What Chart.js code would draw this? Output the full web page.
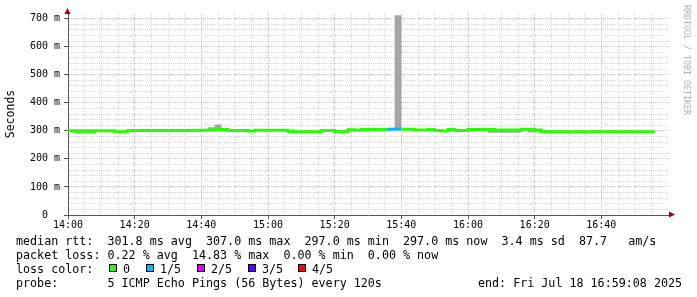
<!DOCTYPE html>
<html>
<head>
<meta charset="utf-8">
<script src="https://cdn.jsdelivr.net/npm/chart.js@4/dist/chart.umd.min.js"></script>
<style>
  body { margin: 0; background: #fff; }
  #wrap { position: relative; width: 697px; height: 297px; overflow: hidden; }
  #c { position: absolute; left: 0; top: 0; }
  .t { position: absolute; font-family: 'DejaVu Sans Mono', monospace; font-size: 11.7px; line-height: 14px; white-space: pre; color: #000; }
  .box { position: absolute; width: 6px; height: 6px; border: 1px solid #000; }
  #brand { position: absolute; left: 682px; top: 5px; font-family: 'DejaVu Sans Mono', monospace; font-size: 8.3px; line-height: 10px; color: #b0b0b0; writing-mode: vertical-rl; white-space: pre; }
</style>
</head>
<body>
<div id="wrap">
  <canvas id="c" width="697" height="297"></canvas>
  <div class="t" style="left:16px; top:234px;">median rtt:  301.8 ms avg  307.0 ms max  297.0 ms min  297.0 ms now  3.4 ms sd  87.7   am/s
packet loss: 0.22 % avg  14.83 % max  0.00 % min  0.00 % now
loss color:
probe:       5 ICMP Echo Pings (56 Bytes) every 120s</div>
  <div class="t" style="left:478px; top:276px;">end: Fri Jul 18 16:59:08 2025</div>
  <div id="legendRow"></div>
  <div id="brand">RRDTOOL / TOBI OETIKER</div>
</div>
<script>
// smokeping median rtt, one value per 120s step starting 14:00 (ms)
const STEP_MIN = 2;
const startHour = 14;

const median = [
  300, 297, 297, 297, 300, 300, 300, 297, 297, 301,
  301, 301, 301, 301, 301, 301, 301, 301, 301, 302,
  302, 303, 305, 305, 301, 301, 301, 299, 302, 302,
  302, 302, 302, 298, 297, 297, 297, 297, 301, 301,
  297, 297, 304, 302, 305, 305, 305, 305, 306, 306,
  306, 306, 303, 303, 305, 301, 299, 305, 301, 301,
  305, 305, 305, 305, 303, 303, 303, 303, 306, 306,
  303, 297, 297, 297, 297, 297, 297, 297, 297, 297,
  297, 297, 297, 297, 297, 297, 297, 297, 297
];

// lost pings (out of 5) per step
const loss = [
  0, 0, 0, 0, 0, 0, 0, 0, 0, 0,
  0, 0, 0, 0, 0, 0, 0, 0, 0, 0,
  0, 0, 0, 0, 0, 0, 0, 0, 0, 0,
  0, 0, 0, 0, 0, 0, 0, 0, 0, 0,
  0, 0, 0, 0, 0, 0, 0, 0, 1, 1,
  0, 0, 0, 0, 0, 0, 0, 0, 0, 0,
  0, 0, 0, 0, 0, 0, 0, 0, 0, 0,
  0, 0, 0, 0, 0, 0, 0, 0, 0, 0,
  0, 0, 0, 0, 0, 0, 0, 0, 0
];

// smoke band (lowest / highest ping) per step
const smokeLo = [
  297, 294, 294, 294, 297, 297, 297, 294, 294, 298,
  298, 298, 298, 298, 298, 298, 298, 298, 298, 299,
  299, 300, 302, 302, 298, 298, 298, 296, 299, 299,
  299, 299, 299, 295, 294, 294, 294, 294, 298, 298,
  294, 294, 301, 299, 302, 302, 302, 302, 303, 303,
  303, 303, 300, 300, 302, 298, 296, 302, 298, 298,
  302, 302, 302, 293, 293, 293, 293, 293, 303, 294,
  294, 294, 294, 294, 294, 294, 294, 294, 294, 294,
  294, 294, 294, 294, 294, 294, 294, 294, 294
];
const smokeHi = [
  303, 306, 306, 306, 303, 303, 303, 300, 300, 304,
  304, 304, 304, 304, 304, 304, 304, 304, 304, 305,
  305, 313, 323, 308, 304, 304, 304, 302, 305, 305,
  305, 305, 305, 305, 300, 300, 300, 300, 304, 304,
  303, 303, 307, 305, 308, 308, 308, 308, 309, 712,
  309, 309, 306, 306, 308, 304, 302, 308, 304, 304,
  305, 305, 305, 308, 306, 306, 306, 306, 309, 309,
  306, 304, 300, 300, 300, 300, 300, 300, 300, 300,
  300, 300, 300, 300, 300, 300, 300, 300, 300
];

const lossColors = ['#26ff00', '#00b8ff', '#dd00ff', '#5e00ff', '#ff0000'];
const lossLabels = ['0', '1/5', '2/5', '3/5', '4/5'];
const yTicks = [0, 100, 200, 300, 400, 500, 600, 700];

const pts = arr => arr.map((v, i) => ({ x: i * STEP_MIN, y: v }));

// legend colour boxes
const boxX = [109, 146, 197, 248, 298];
const row = document.getElementById('legendRow');
lossLabels.forEach((lab, i) => {
  const b = document.createElement('div');
  b.className = 'box';
  b.style.left = boxX[i] + 'px';
  b.style.top = '264px';
  b.style.background = lossColors[i];
  row.appendChild(b);
  const t = document.createElement('div');
  t.className = 't';
  t.style.left = (boxX[i] + 14) + 'px';
  t.style.top = '262px';
  t.textContent = lab;
  row.appendChild(t);
});

const gridMinor = 'rgba(165,165,165,0.45)';
const gridMajor = 'rgba(230,110,110,0.6)';

const arrows = {
  id: 'arrows',
  afterDraw(chart) {
    const { ctx, chartArea: a } = chart;
    ctx.save();
    ctx.fillStyle = '#a00000';
    ctx.beginPath();
    ctx.moveTo(a.right + 7, a.bottom - 0.5);
    ctx.lineTo(a.right + 1, a.bottom - 3.5);
    ctx.lineTo(a.right + 1, a.bottom + 2.5);
    ctx.closePath();
    ctx.fill();
    ctx.beginPath();
    ctx.moveTo(a.left - 0.5, a.top - 5);
    ctx.lineTo(a.left - 3.5, a.top + 1);
    ctx.lineTo(a.left + 2.5, a.top + 1);
    ctx.closePath();
    ctx.fill();
    ctx.restore();
  }
};

Chart.defaults.font.family = "'DejaVu Sans Mono', monospace";
Chart.defaults.color = '#000';

// 'before' = each step keeps its own value until the next sample
new Chart(document.getElementById('c'), {
  type: 'line',
  data: {
    datasets: [
      {
        label: 'smoke lo',
        data: pts(smokeLo),
        stepped: 'before',
        borderWidth: 0,
        pointRadius: 0,
        fill: false,
        order: 2
      },
      {
        label: 'smoke hi',
        data: pts(smokeHi),
        stepped: 'before',
        borderWidth: 0,
        pointRadius: 0,
        backgroundColor: '#a4a4a4',
        fill: '-1',
        order: 1
      },
      {
        label: 'median rtt',
        data: pts(median),
        stepped: 'before',
        borderWidth: 3,
        borderColor: lossColors[0],
        borderCapStyle: 'butt',
        borderJoinStyle: 'miter',
        pointRadius: 0,
        fill: false,
        order: 0,
        segment: {
          borderColor: c => lossColors[loss[c.p0DataIndex]]
        }
      }
    ]
  },
  options: {
    responsive: false,
    animation: false,
    devicePixelRatio: 1,
    layout: { padding: { left: 0, right: 29, top: 13, bottom: 0 } },
    plugins: { legend: { display: false }, tooltip: { enabled: false } },
    scales: {
      x: {
        type: 'linear',
        min: 0,
        max: 180,
        afterFit: s => { s.height = 82; },
        ticks: {
          stepSize: 5,
          autoSkip: false,
          maxRotation: 0,
          padding: 0,
          font: { size: 10 },
          callback: v => {
            if (v % 20 !== 0 || v >= 180) return '';
            const h = startHour + Math.floor(v / 60);
            const m = v % 60;
            return h + ':' + String(m).padStart(2, '0');
          }
        },
        grid: {
          color: c => c.tick && c.tick.value >= 180 ? 'rgba(0,0,0,0)' : (c.tick && c.tick.value % 20 === 0 ? gridMajor : gridMinor),
          tickColor: c => c.tick && c.tick.value % 20 === 0 && c.tick.value < 180 ? '#555' : 'rgba(0,0,0,0)',
          tickLength: 4,
          lineWidth: 1
        },
        border: {
          color: '#555',
          width: 1,
          dash: c => c.type === 'tick' ? [1, 1] : []
        }
      },
      y: {
        min: 0,
        max: 720,
        afterFit: s => { s.width = 68; },
        ticks: {
          stepSize: 20,
          autoSkip: false,
          padding: 4,
          font: { size: 10 },
          callback: v => {
            if (!yTicks.includes(v)) return '';
            return v === 0 ? '0  ' : v + ' m';
          }
        },
        grid: {
          color: c => c.tick && c.tick.value > 700 ? 'rgba(0,0,0,0)' : (c.tick && c.tick.value % 100 === 0 ? gridMajor : gridMinor),
          tickColor: c => c.tick && yTicks.includes(c.tick.value) ? '#555' : 'rgba(0,0,0,0)',
          tickLength: 4,
          lineWidth: 1
        },
        border: {
          color: '#555',
          width: 1,
          dash: c => c.type === 'tick' ? [1, 1] : []
        },
        title: {
          display: true,
          text: 'Seconds',
          font: { size: 11.5 },
          padding: { top: 4, bottom: 0 }
        }
      }
    }
  },
  plugins: [arrows]
});
</script>
</body>
</html>
